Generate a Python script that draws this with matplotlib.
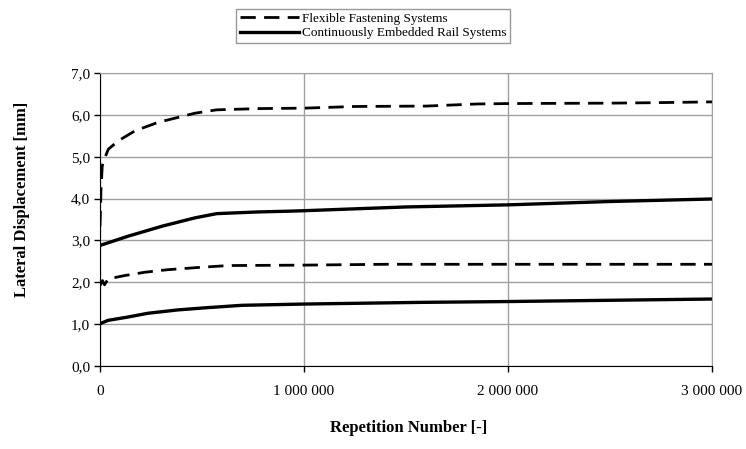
import numpy as np
import matplotlib.pyplot as plt
from matplotlib.ticker import FuncFormatter

plt.rcParams['font.family'] = ['Liberation Serif', 'DejaVu Serif']

# values
flex_top_n = [0, 5e3, 11e3, 21e3, 41e3, 90e3, 172e3, 284e3, 466e3, 572e3, 784e3,
              1.0e6, 1.25e6, 1.6e6, 1.85e6, 2.0e6, 2.5e6, 2.7e6, 3.0e6]
flex_top = [3.34, 4.22, 4.78, 4.94, 5.18, 5.38, 5.62, 5.82, 6.04, 6.12, 6.15,
            6.16, 6.2, 6.21, 6.26, 6.27, 6.28, 6.29, 6.31]

cer_top_n = [0, 137e3, 304e3, 466e3, 572e3, 770e3, 936e3, 1.0e6, 1.5e6, 2.0e6, 2.5e6, 3.0e6]
cer_top = [2.88, 3.1, 3.34, 3.54, 3.64, 3.68, 3.7, 3.71, 3.8, 3.85, 3.93, 3.99]

flex_low_n = [0, 12e3, 22e3, 40e3, 120e3, 220e3, 330e3, 500e3, 630e3, 1.0e6, 1.4e6, 3.0e6]
flex_low = [1.92, 2.04, 1.94, 2.08, 2.16, 2.24, 2.30, 2.36, 2.40, 2.41, 2.43, 2.43]

cer_low_n = [0, 39e3, 137e3, 235e3, 382e3, 515e3, 696e3, 1.0e6, 1.57e6, 2.0e6, 2.5e6, 3.0e6]
cer_low = [1.01, 1.09, 1.17, 1.26, 1.34, 1.39, 1.45, 1.48, 1.52, 1.54, 1.57, 1.60]

fig = plt.figure(figsize=(7.46, 4.49), dpi=100)
ax = fig.add_axes([100/746, 83/449, 612/746, 293/449])

dash = (0, (5.5, 3.0))
l1, = ax.plot(flex_top_n, flex_top, color='black', lw=2.0, linestyle=dash)
ax.plot(flex_low_n, flex_low, color='black', lw=2.0, linestyle=dash)
l2, = ax.plot(cer_top_n, cer_top, color='black', lw=2.4)
ax.plot(cer_low_n, cer_low, color='black', lw=2.4)

ax.set_xlim(0, 3e6)
ax.set_ylim(0, 7)
ax.set_xticks([0, 1e6, 2e6, 3e6])
ax.set_yticks(np.arange(0, 7.1, 1))
ax.xaxis.set_major_formatter(FuncFormatter(lambda v, p: f"{int(v):,}".replace(",", " ")))
ax.yaxis.set_major_formatter(FuncFormatter(lambda v, p: f"{v:.1f}".replace(".", ",")))
ax.grid(True, color='#a0a0a0', lw=1.0)
ax.set_axisbelow(True)
for s in ['top', 'right']:
    ax.spines[s].set_color('#a0a0a0')
for s in ['left', 'bottom']:
    ax.spines[s].set_color('black')
ax.tick_params(axis='both', labelsize=11, direction='out', length=4, width=1)
ax.tick_params(axis='x', pad=10)
ax.tick_params(axis='y', pad=3)

ax.set_xlabel('Repetition Number [-]', fontsize=12, fontweight='bold')
ax.xaxis.set_label_coords(0.505, -0.186)
ax.set_ylabel('Lateral Displacement [mm]', fontsize=12, fontweight='bold')
ax.yaxis.set_label_coords(-0.115, 0.57)

leg = fig.legend([l1, l2], ['Flexible Fastening Systems', 'Continuously Embedded Rail Systems'],
                 loc='upper center', bbox_to_anchor=(0.5, 0.995), fontsize=9.5,
                 frameon=True, fancybox=False, edgecolor='#808080', handlelength=4.5,
                 handletextpad=0.2, borderpad=0.3, labelspacing=0.15)
leg.get_frame().set_linewidth(1.0)

fig.savefig('out.png', dpi=100)
